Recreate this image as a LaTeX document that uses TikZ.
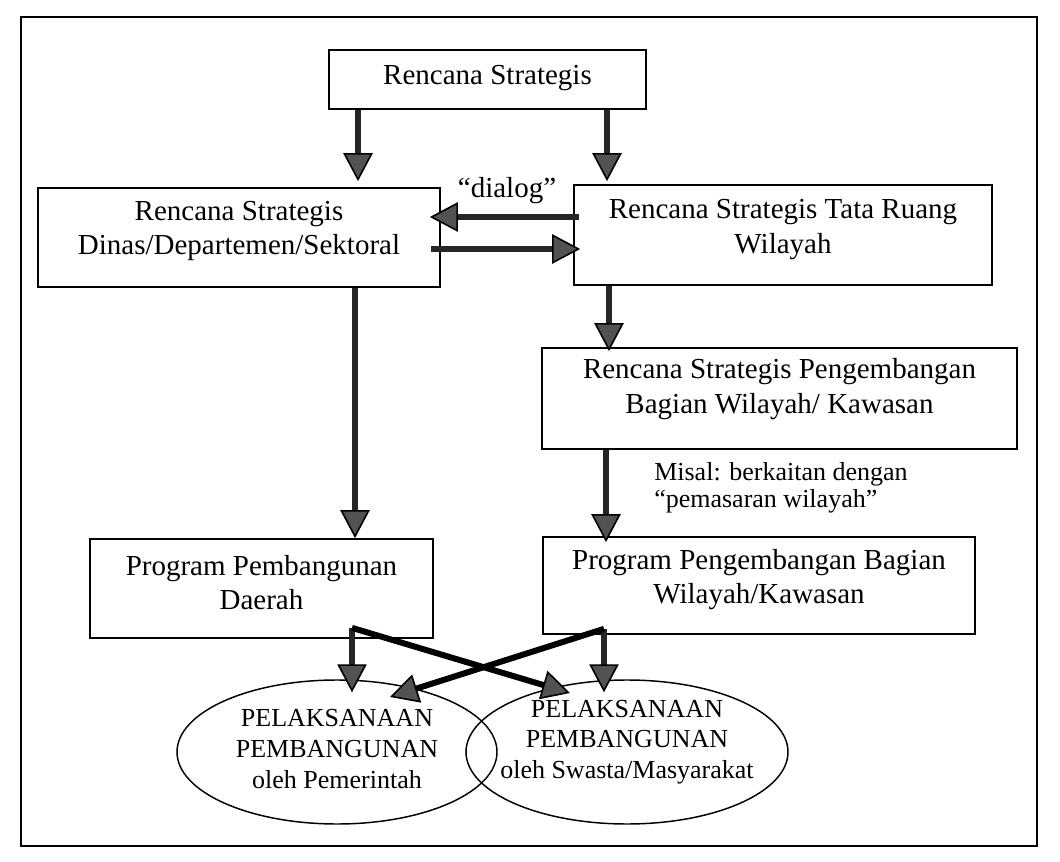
\documentclass[tikz,border=0pt]{standalone}
\usepackage{fontspec}
\setmainfont{Liberation Serif}
\usetikzlibrary{arrows.meta,shapes.geometric,calc}
\begin{document}
\begin{tikzpicture}[x=0.75pt,y=-0.75pt,
  box/.style={draw=black,line width=1.3pt,rectangle,inner sep=0pt},
  boxtext/.style={align=center,inner sep=0pt,font=\fontsize{21.75pt}{26pt}\selectfont},
  ell/.style={draw=black,line width=1.1pt,ellipse,inner sep=0pt},
  elltext/.style={align=center,inner sep=0pt,font=\fontsize{19.5pt}{23pt}\selectfont},
  arr/.style={line width=3.9pt,draw=black!85,-{Triangle[length=21pt,width=22pt,line width=1.2pt,color=black,fill=black!68]}},
  crossarr/.style={line width=4.5pt,draw=black,-{Triangle[length=21pt,width=22pt,line width=1.2pt,color=black,fill=black!68]}},
]
\useasboundingbox (0,0) rectangle (1060,862);
\draw[line width=1.5pt] (21,17) rectangle (1037,846);

% boxes
\node[box,minimum width=237.75pt,minimum height=44.25pt,
  label={[boxtext,yshift=1pt]center:{Rencana Strategis}}] (top) at (487.5,79.5) {};
\node[box,minimum width=301.5pt,minimum height=74.25pt,
  label={[boxtext,yshift=5pt]center:{Rencana Strategis\\Dinas/Departemen/Sektoral}}] (dinas) at (239,237.5) {};
\node[box,minimum width=313.5pt,minimum height=75pt,
  label={[boxtext,yshift=4pt]center:{Rencana Strategis Tata Ruang\\Wilayah}}] (tata) at (783,235) {};
\node[box,minimum width=356.25pt,minimum height=75.75pt,
  label={[boxtext,yshift=7pt]center:{Rencana Strategis Pengembangan\\Bagian Wilayah/ Kawasan}}] (peng) at (779.5,398.5) {};
\node[box,minimum width=257.25pt,minimum height=74.25pt,
  label={[boxtext,yshift=4.5pt]center:{Program Pembangunan\\Daerah}}] (pd) at (261.5,588.5) {};
\node[box,minimum width=324pt,minimum height=72.75pt,
  label={[boxtext,yshift=4.5pt]center:{Program Pengembangan Bagian\\Wilayah/Kawasan}}] (pp) at (759,585.5) {};

% ellipses
\node[ell,minimum width=240pt,minimum height=108pt,
  label={[elltext,yshift=2.25pt]center:{PELAKSANAAN\\PEMBANGUNAN\\oleh Pemerintah}}] (eL) at (337,752) {};
\node[ell,minimum width=241.5pt,minimum height=108pt,
  label={[elltext,yshift=7.5pt]center:{PELAKSANAAN\\PEMBANGUNAN\\oleh Swasta/Masyarakat}}] (eR) at (627,752) {};

% free texts
\node[inner sep=0pt,font=\fontsize{21.75pt}{26pt}\selectfont] (dlg) at (507,191) {“dialog”};
\node[inner sep=0pt,align=left,anchor=west,font=\fontsize{19.5pt}{20.5pt}\selectfont] (misal) at (654,488) {Misal: berkaitan dengan\\“pemasaran wilayah”};

% helper coordinates
\coordinate (xa) at (358,0);
\coordinate (xb) at (607,0);
\coordinate (xc) at (609,0);
\coordinate (xd) at (355,0);
\coordinate (xe) at (606,0);
\coordinate (xf) at (352,0);
\coordinate (xg) at (604,0);
\coordinate (ya) at (0,217);
\coordinate (yb) at (0,249);
\coordinate (pdo) at ($(pd.south -| xf)+(0,-11)$);
\coordinate (ppo) at ($(pp.south -| xg)+(0,-6)$);
\coordinate (eRt) at ($(eR.center)+(-57,-59)$);
\coordinate (eLt) at ($(eL.center)+(53,-55)$);

% connectors
\draw[arr,shorten >=4.5pt] (top.south -| xa) -- (dinas.north -| xa);
\draw[arr,shorten >=2.25pt] (top.south -| xb) -- (tata.north -| xb);
\draw[arr,shorten <=-4.5pt,shorten >=-8.25pt] (tata.west |- ya) -- (dinas.east |- ya);
\draw[arr,shorten <=-7.5pt,shorten >=-5.25pt] (dinas.east |- yb) -- (tata.west |- yb);
\draw[arr,shorten >=-3pt] (tata.south -| xc) -- (peng.north -| xc);
\draw[arr] (dinas.south -| xd) -- (pd.north -| xd);
\draw[arr,shorten >=-4.5pt] (peng.south -| xe) -- (pp.north -| xe);
\draw[arr,shorten >=-9.75pt] (pdo) -- (eL.north -| xf);
\draw[arr,shorten >=-9.75pt] (ppo) -- (eR.north -| xg);
\draw[crossarr] (pdo) -- (eRt);
\draw[crossarr] (ppo) -- (eLt);
\end{tikzpicture}
\end{document}
